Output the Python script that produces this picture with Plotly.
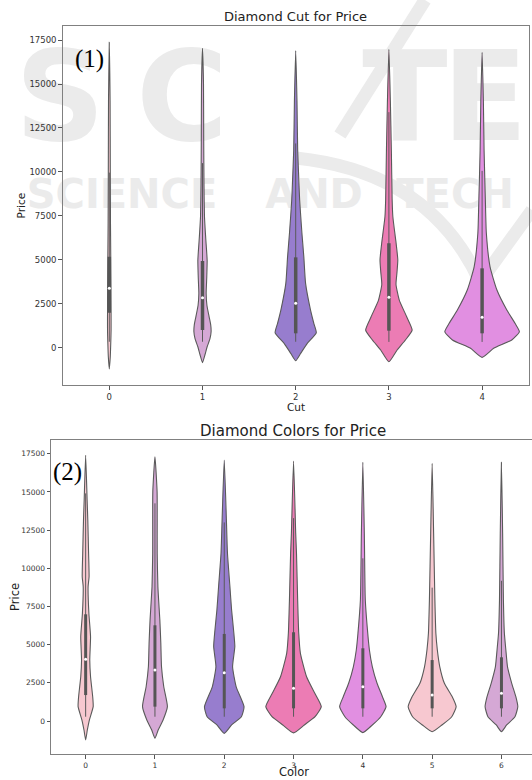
import plotly.graph_objects as go

# ---------------- data ----------------
cut_categories = [0, 1, 2, 3, 4]
color_categories = [0, 1, 2, 3, 4, 5, 6]
price_ticks = [0, 2500, 5000, 7500, 10000, 12500, 15000, 17500]

# Violin density profiles: price levels and relative density
cut0_price = [-1200, -500, 300, 1000, 2000, 3400, 5000, 7000, 10000, 14000, 17370]
cut0_density = [0, 1.0, 1.5, 1.8, 1.8, 1.7, 1.5, 1.2, 1.0, 0.8, 0]
cut1_price = [-850, -400, 57, 500, 910, 1300, 1760, 2400, 3090, 4000, 4980, 6200, 7450, 9350, 12000, 15000, 17030]
cut1_density = [0, 2.5, 4.7, 7.5, 8.7, 8.3, 6.7, 4.5, 3.7, 4.3, 4.7, 3.3, 2.0, 1.5, 1.2, 1.0, 0]
cut2_price = [-740, -320, 250, 850, 1390, 2145, 3660, 5180, 6510, 8400, 9350, 11240, 14000, 16900]
cut2_density = [0, 5, 11.7, 20.8, 18.3, 15, 10, 8.2, 6.3, 4.0, 3.3, 2.0, 1.3, 0]
cut3_price = [-800, -130, 440, 1000, 1760, 2710, 3600, 4300, 5000, 5940, 7450, 8400, 11200, 14000, 16970]
cut3_density = [0, 8.3, 16.7, 23.5, 18, 10.5, 7.2, 8.2, 9, 7.3, 4, 3.3, 2.5, 1.5, 0]
cut4_price = [-550, -35, 440, 910, 1390, 2145, 3280, 4610, 6510, 8400, 11240, 14000, 16800]
cut4_density = [0, 11.7, 30, 37.7, 33.3, 25, 15, 8, 4.3, 3.3, 2.0, 1.3, 0]

cut_q1 = [1990, 1007, 820, 970, 820]
cut_median = [3380, 2845, 2525, 2870, 1730]
cut_q3 = [5180, 4930, 5140, 5940, 4515]
cut_whisker_low = [340, 340, 340, 330, 330]
cut_whisker_high = [9960, 10500, 11620, 13400, 10060]

col0_price = [-1240, -590, 65, 940, 1590, 2900, 3990, 5520, 7050, 8790, 9450, 10980, 13160, 14470, 17400]
col0_density = [0, 1.7, 3.8, 7.7, 7.2, 5, 4.2, 5, 3.3, 2.5, 3.5, 3, 2.2, 1.5, 0]
col1_price = [-1130, -590, 65, 940, 2240, 3550, 5080, 6610, 8790, 10980, 13160, 15000, 17300]
col1_density = [0, 3.3, 8.3, 12.7, 9, 6.7, 6, 5, 3, 2.3, 2.3, 2.2, 0]
col2_price = [-810, -260, 280, 940, 2240, 3550, 4870, 5960, 7270, 8790, 10980, 13160, 17090]
col2_density = [0, 7.5, 17.5, 20.2, 12.2, 8.5, 10.8, 9.5, 7.5, 5.8, 3.3, 2.2, 0]
col3_price = [-780, -260, 280, 940, 1810, 2900, 4430, 5740, 7920, 10980, 12300, 17020]
col3_density = [0, 11, 22, 28.3, 21.7, 13.3, 7, 5.3, 4.2, 3.0, 2.2, 0]
col4_price = [-760, -260, 280, 940, 1590, 2470, 3550, 4650, 5740, 7920, 12300, 16940]
col4_density = [0, 9.7, 18.3, 23.7, 20, 14.5, 9.7, 6.7, 5, 2.5, 1.5, 0]
col5_price = [-700, -260, 280, 940, 1590, 2470, 3550, 4650, 5740, 7920, 12300, 16870]
col5_density = [0, 10, 20, 24.5, 20.5, 12.5, 7.8, 5.3, 3.8, 2.8, 1.5, 0]
col6_price = [-700, -260, 280, 940, 1590, 2470, 3550, 4650, 5740, 7920, 12300, 16940]
col6_density = [0, 5.3, 13.8, 16.7, 14.7, 10.5, 6.2, 4.5, 3, 2, 1.2, 0]

col_q1 = [1700, 940, 830, 830, 830, 830, 830]
col_median = [4040, 3340, 3160, 2140, 2245, 1700, 1810]
col_q3 = [6985, 6265, 5700, 5810, 4760, 3990, 4170]
col_whisker_low = [280, 280, 280, 280, 280, 280, 280]
col_whisker_high = [14900, 14250, 13000, 13280, 10650, 8730, 9180]

# ---------------- styles ----------------
W, H = 532, 780
PINK, PLUM, MPURPLE, HOTPINK, VIOLET = "#f7c8d0", "#d5a8d5", "#977dce", "#ec7cb4", "#e18fe1"
cut_colors = [PINK, PLUM, MPURPLE, HOTPINK, VIOLET]
col_colors = [PINK, PLUM, MPURPLE, HOTPINK, VIOLET, PINK, PLUM]
OUTLINE = "#5a5a5a"
FONT = "DejaVu Sans"


def px(x, y):
    return x / W, 1 - y / H


fig = go.Figure()


def add_violins(xa, ya, cats, prices, dens, colors, q1, med, q3, wlo, whi, boxw):
    dmax = max(max(d) for d in dens)
    for c, pr, d, col in zip(cats, prices, dens, colors):
        hw = [0.4 * v / dmax for v in d]
        xs = [c + h for h in hw] + [c - h for h in reversed(hw[:-1])]
        ys = list(pr) + list(reversed(pr[:-1]))
        fig.add_trace(go.Scatter(
            x=xs, y=ys, mode="lines", fill="toself", fillcolor=col,
            line=dict(color=OUTLINE, width=1.1, shape="spline", smoothing=0.5),
            xaxis=xa, yaxis=ya, hoverinfo="skip", showlegend=False))
    for i, c in enumerate(cats):
        fig.add_trace(go.Scatter(
            x=[c, c], y=[wlo[i], whi[i]], mode="lines",
            line=dict(color=OUTLINE, width=1.0), xaxis=xa, yaxis=ya,
            hoverinfo="skip", showlegend=False))
        fig.add_trace(go.Scatter(
            x=[c, c], y=[q1[i], q3[i]], mode="lines",
            line=dict(color="#555555", width=boxw), xaxis=xa, yaxis=ya,
            hoverinfo="skip", showlegend=False))
        fig.add_trace(go.Scatter(
            x=[c], y=[med[i]], mode="markers",
            marker=dict(color="white", size=3, line=dict(width=0)),
            xaxis=xa, yaxis=ya, hoverinfo="skip", showlegend=False))


add_violins("x", "y", cut_categories,
            [cut0_price, cut1_price, cut2_price, cut3_price, cut4_price],
            [cut0_density, cut1_density, cut2_density, cut3_density, cut4_density],
            cut_colors, cut_q1, cut_median, cut_q3, cut_whisker_low, cut_whisker_high, 3.5)
add_violins("x2", "y2", color_categories,
            [col0_price, col1_price, col2_price, col3_price, col4_price, col5_price, col6_price],
            [col0_density, col1_density, col2_density, col3_density, col4_density, col5_density, col6_density],
            col_colors, col_q1, col_median, col_q3, col_whisker_low, col_whisker_high, 3.0)

axis_common = dict(showgrid=False, zeroline=False, ticks="outside", ticklen=3.5,
                   tickcolor="#555555", showline=True, linecolor="#808080", linewidth=1,
                   automargin=False)

fig.update_layout(
    width=W, height=H, margin=dict(l=0, r=0, t=0, b=0, autoexpand=False),
    paper_bgcolor="white", plot_bgcolor="rgba(0,0,0,0)",
    font=dict(family=FONT, color="#333333"),
    xaxis=dict(domain=[62.7 / W, 528.7 / W], range=[-0.5, 4.5], anchor="y",
               tickvals=cut_categories, ticktext=[str(c) for c in cut_categories],
               tickfont=dict(size=8.5), mirror=True, **axis_common),
    yaxis=dict(domain=[1 - 385 / H, 1 - 26 / H], range=[-2120, 18300], anchor="x",
               tickvals=price_ticks, ticktext=[str(t) for t in price_ticks],
               tickfont=dict(size=8.5), mirror=True, **axis_common),
    xaxis2=dict(domain=[51 / W, 1.0], range=[-0.5, -0.5 + (W - 51) / 69.3], anchor="y2",
                tickvals=color_categories, ticktext=[str(c) for c in color_categories],
                tickfont=dict(size=7.5), mirror=True, **axis_common),
    yaxis2=dict(domain=[1 - 754 / H, 1 - 440 / H], range=[-2160, 18396], anchor="x2",
                tickvals=price_ticks, ticktext=[str(t) for t in price_ticks],
                tickfont=dict(size=7.5), mirror=False, **axis_common),
)

# ---------------- texts ----------------
def ann(text, x, y, size, family=FONT, color="#222222", angle=0):
    xx, yy = px(x, y)
    fig.add_annotation(text=text, x=xx, y=yy, xref="paper", yref="paper",
                       showarrow=False, xanchor="center", yanchor="middle",
                       textangle=angle, font=dict(family=family, size=size, color=color))


ann("Diamond Cut for Price", 295.5, 16, 13)
ann("Diamond Colors for Price", 293, 431, 15)
ann("Cut", 295.5, 407, 10.5)
ann("Color", 293.5, 772, 11.5)
ann("Price", 21, 205.5, 10.5, angle=-90)
ann("Price", 15, 597, 11.5, angle=-90)
ann("(1)", 89, 59, 25, family="Liberation Serif", color="black")
ann("(2)", 67, 472, 25, family="Liberation Serif", color="black")

# ---------------- faint watermark (below the marks) ----------------
WM = "#ebebeb"


def wm_text(text, x, y, size, w=60, h=40):
    x0, y0 = px(x - w / 2, y + h / 2)
    x1, y1 = px(x + w / 2, y - h / 2)
    fig.add_shape(type="rect", xref="paper", yref="paper", x0=x0, y0=y0, x1=x1, y1=y1,
                  line=dict(width=0), fillcolor="rgba(0,0,0,0)", layer="below",
                  label=dict(text=text, textposition="middle center",
                             font=dict(family="DejaVu Sans", size=size, color=WM)))


wm_text("<b>S</b>", 60, 87, 125)
wm_text("<b>C</b>", 182, 87, 125)
wm_text("<b>T</b>", 405, 87, 125)
wm_text("<b>E</b>", 485, 87, 125)
wm_text("<b>SCIENCE</b>", 122, 191, 40, w=240)
wm_text("<b>AND</b>", 314, 191, 40, w=110)
wm_text("<b>TECH</b>", 455, 191, 40, w=150)

sx0, sy0 = px(340, 135)
sx1, sy1 = px(425, 0)
fig.add_shape(type="line", xref="paper", yref="paper", x0=sx0, y0=sy0, x1=sx1, y1=sy1,
              line=dict(color=WM, width=13), layer="below")
p0 = px(296, 158); pc = px(430, 172); p1 = px(480, 282); p2 = px(532, 210)
fig.add_shape(type="path", xref="paper", yref="paper", layer="below",
              path=f"M {p0[0]},{p0[1]} Q {pc[0]},{pc[1]} {p1[0]},{p1[1]} L {p2[0]},{p2[1]}",
              line=dict(color=WM, width=13))

fig.write_html("out.html", config={"displayModeBar": False},
               post_script="document.body.style.margin='0';document.body.style.padding='0';")
